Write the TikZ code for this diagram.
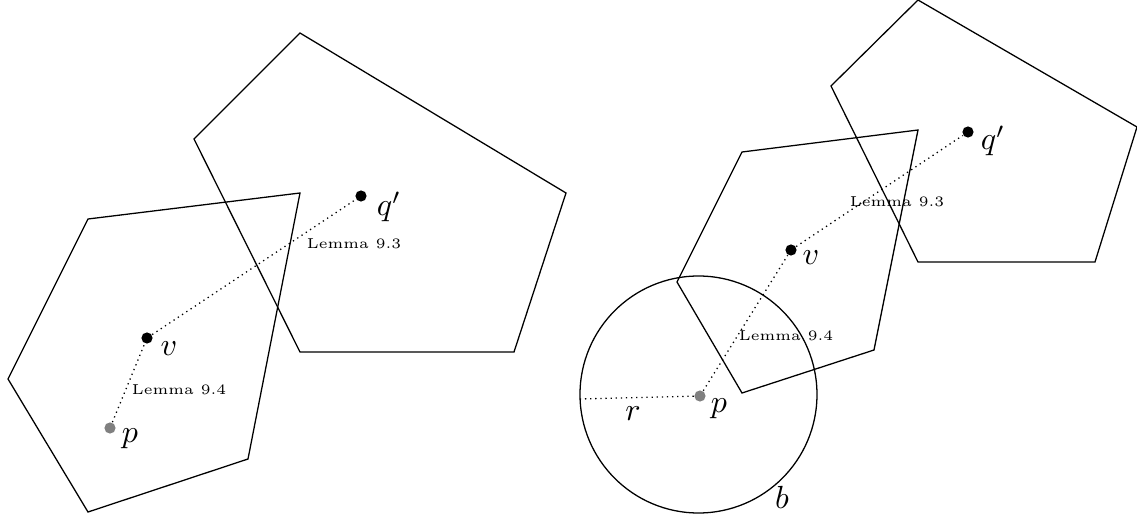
\documentclass[tikz,border=0pt]{standalone}
\begin{document}
\begin{tikzpicture}[x=0.3125pt,y=-0.3125pt,
  dot/.style={circle,fill=black,inner sep=0pt,minimum size=3.5pt},
  gdot/.style={circle,fill=gray,inner sep=0pt,minimum size=3.5pt},
  poly/.style={draw=black,line width=0.4pt,line join=miter},
  link/.style={line width=0.4pt,dash pattern=on 0.4pt off 1.2pt},
  lem/.style={font=\fontsize{4.5}{5}\selectfont,inner sep=0pt},
  lab/.style={inner sep=0pt}]
\useasboundingbox (0,0) rectangle (1137,518);
% ---------- left figure ----------
\draw[poly] (88,219) -- (300,193) -- (248,459) -- (88,512) -- (8,379) -- cycle;
\draw[poly] (300,33) -- (566,193) -- (514,352) -- (300,352) -- (194,139) -- cycle;
\node[dot] (q1) at (361,196) {};
\node[dot] (v1) at (147,338) {};
\node[gdot] (p1) at (110,428) {};
\draw[link] (v1) -- (q1);
\draw[link] (p1) -- (v1);
\node[lab] (q1l) at (389,207) {$q'$};
\node[lab] (v1l) at (169,349) {$v$};
\node[lab] (p1l) at (130,439) {$p$};
\node[lem] (l93a) at (354,244) {Lemma 9.3};
\node[lem] (l94a) at (179,390) {Lemma 9.4};
% ---------- right figure ----------
\draw[poly] (742,152) -- (918,130) -- (874,350) -- (742,393) -- (677,282) -- cycle;
\draw[poly] (918,0) -- (1137,127) -- (1095,262) -- (918,262) -- (831,86) -- cycle;
\node[draw,circle,inner sep=0pt,minimum size=74.06pt,line width=0.4pt] (ball) at (698.5,394.5) {};
\node[dot] (q2) at (968,132) {};
\node[dot] (v2) at (791,250) {};
\node[gdot] (p2) at (700,396) {};
\coordinate (rend) at (580,399);
\draw[link] (v2) -- (q2);
\draw[link] (p2) -- (v2);
\draw[link] (p2) -- (rend);
\node[lab] (q2l) at (993,141) {$q'$};
\node[lab] (v2l) at (811,258) {$v$};
\node[lab] (p2l) at (719,409) {$p$};
\node[lab] (rl) at (633,414) {$r$};
\node[lab] (bl) at (782,497) {$b$};
\node[lem] (l93b) at (897,202) {Lemma 9.3};
\node[lem] (l94b) at (786,336) {Lemma 9.4};
\end{tikzpicture}
\end{document}
